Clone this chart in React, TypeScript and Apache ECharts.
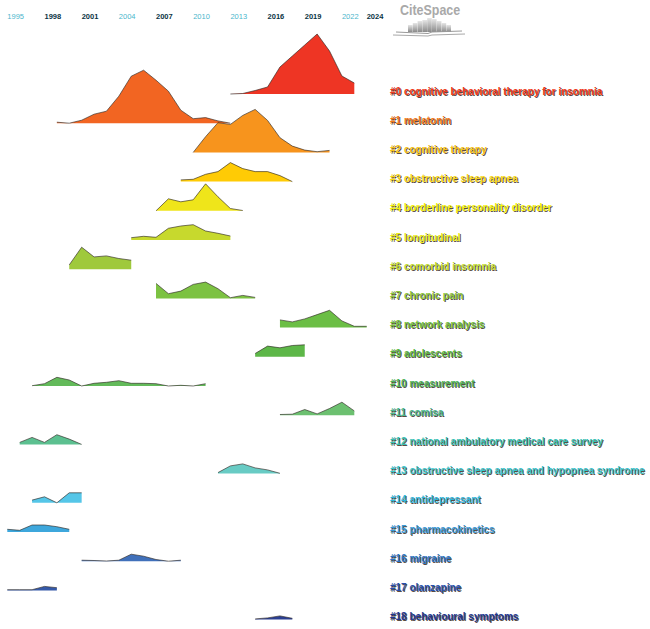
import React, { useEffect, useRef } from "react";
import * as echarts from "echarts";

const clusterNames = [
  "#0 cognitive behavioral therapy for insomnia",
  "#1 melatonin",
  "#2 cognitive therapy",
  "#3 obstructive sleep apnea",
  "#4 borderline personality disorder",
  "#5 longitudinal",
  "#6 comorbid insomnia",
  "#7 chronic pain",
  "#8 network analysis",
  "#9 adolescents",
  "#10 measurement",
  "#11 comisa",
  "#12 national ambulatory medical care survey",
  "#13 obstructive sleep apnea and hypopnea syndrome",
  "#14 antidepressant",
  "#15 pharmacokinetics",
  "#16 migraine",
  "#17 olanzapine",
  "#18 behavioural symptoms",
];

const startYears = [2013, 1999, 2010, 2009, 2007, 2005, 2000, 2007, 2017, 2015, 1997, 2017, 1996, 2012, 1997, 1995, 2001, 1995, 2015];

const h0 = [0, 0.5, 3.5, 7, 27, 38, 49, 60, 43, 18, 11];
const h1 = [1, 0, 3, 9, 12, 27, 47, 53, 43, 32, 13, 4.5, 5.6, 2.3, 0];
const h2 = [0, 15.7, 29.7, 28, 37, 43, 32, 14.7, 6.3, 2.3, 0.7, 2];
const h3 = [1.7, 2.3, 7.3, 10, 19, 13, 10, 10, 6, 0];
const h4 = [0, 12, 9, 11, 27, 14, 2.3, 0.3];
const h5 = [2.3, 3.7, 2.7, 11.7, 14, 15.3, 9, 6.7, 4];
const h6 = [4.3, 22, 12.3, 13.3, 10.7, 9];
const h7 = [15, 4.7, 7.3, 14, 16.3, 9.7, 0.7, 3, 1];
const h8 = [7.7, 5.7, 8.7, 13, 17.3, 6.7, 1.3, 1.3];
const h9 = [3.3, 10.7, 9, 11.3, 12];
const h10 = [0.3, 2.3, 8.7, 6, 0, 2.7, 3.7, 5.3, 2.7, 2.7, 2.3, 0, 0.7, 0, 2.3];
const h11 = [0.7, 1, 5.7, 1.3, 6.7, 13, 4.3];
const h12 = [2, 7, 2, 9.7, 5.3, 0];
const h13 = [1, 7.7, 9.7, 5.7, 3.7, 0.3];
const h14 = [2.7, 6, 0, 10, 10];
const h15 = [2.7, 1.7, 7, 7, 5.3, 2.7];
const h16 = [1, 0.7, 0.2, 1, 7, 5, 1.7, 0, 1];
const h17 = [0.7, 0.7, 0.7, 4, 2.7];
const h18 = [0.7, 1.7, 3.7, 1.3];
const clusterHeights = [h0, h1, h2, h3, h4, h5, h6, h7, h8, h9, h10, h11, h12, h13, h14, h15, h16, h17, h18];

const areaColors = [
  "#ee3524", "#f26522", "#f7941d", "#ffcb05", "#efe51a", "#c7d92d", "#9fc93c",
  "#7cc242", "#6bbe45", "#5db748", "#63ba5a", "#6cc070", "#5cc090", "#68cbc4",
  "#55c6e8", "#3ea7dc", "#4070ba", "#3559a8", "#2b3f92",
];
const labelColors = [
  "#ee3a20", "#f07a1c", "#f5c21a", "#f8d81c", "#f2f010", "#e8ea20", "#c2dc34",
  "#8cc640", "#74c040", "#5cb844", "#4eb258", "#4cb890", "#38c0b4", "#3cc4cc",
  "#30b6dc", "#3898d8", "#2c74c4", "#2850ae", "#1f3892",
];

const yearMin = 1995;
const yearMax = 2024;
const darkYears = [1998, 2001, 2007, 2016, 2019, 2024];

export default function App() {
  const ref = useRef<HTMLDivElement>(null);
  useEffect(() => {
    const el = ref.current!;
    const chart = echarts.init(el, null, { renderer: "svg" });
    const H = 629;
    const gridTop = 22;
    const rowPix = (i: number) => 94 + 29.2 * i;
    const rowBase = (i: number) => H - rowPix(i);

    const series = clusterHeights.map((hs, i) => ({
      type: "line",
      data: hs.map((h, k) => [startYears[i] + k, rowBase(i) + h]),
      symbol: "none",
      showSymbol: false,
      silent: true,
      lineStyle: { color: "rgba(45,40,35,0.8)", width: 0.8 },
      areaStyle: { color: areaColors[i], opacity: 1, origin: rowBase(i) },
    }));

    const font = "Liberation Sans, Arial, sans-serif";
    const labelFont = `bold 10px ${font}`;
    const labels: any[] = [];
    clusterNames.forEach((name, i) => {
      labels.push({
        type: "text",
        x: 391,
        y: rowPix(i) - 2,
        silent: true,
        style: {
          text: name,
          fill: "rgba(45,25,15,0.8)",
          font: labelFont,
          verticalAlign: "middle",
          align: "left",
        },
      });
      labels.push({
        type: "text",
        x: 390,
        y: rowPix(i) - 3,
        silent: true,
        style: {
          text: name,
          fill: labelColors[i],
          font: labelFont,
          verticalAlign: "middle",
          align: "left",
        },
      });
    });

    const barTops = [25, 23, 21, 20, 18, 19, 21, 23, 25];
    const bars = barTops.map((t, k) => ({
      type: "rect",
      shape: { x: 408 + k * 4.8, y: t, width: 4.6, height: 32 - t },
      style: {
        fill: new echarts.graphic.LinearGradient(0, 0, 0, 1, [
          { offset: 0, color: "#e6e6e6" },
          { offset: 1, color: "#8a8a8a" },
        ]),
      },
      silent: true,
    }));

    const logo = [
      {
        type: "text",
        x: 400,
        y: 3,
        scaleX: 0.83,
        style: {
          text: "CiteSpace",
          fill: "#a9a9a9",
          font: `bold 15px Liberation Sans, Arial, sans-serif`,
        },
        silent: true,
      },
      ...bars,
      {
        type: "polyline",
        shape: { points: [[396, 32], [428, 33.5], [432, 32], [462, 31]] },
        style: { stroke: "#9a9a9a", lineWidth: 1, fill: null },
        silent: true,
      },
      {
        type: "polyline",
        shape: { points: [[393, 35], [428, 36], [432, 35], [465, 34]] },
        style: { stroke: "#a8a8a8", lineWidth: 1, fill: null },
        silent: true,
      },
    ];

    chart.setOption({
      animation: false,
      backgroundColor: "#ffffff",
      grid: { left: 7.3, right: 650 - 366.7, top: gridTop, bottom: 0, containLabel: false },
      xAxis: {
        type: "value",
        min: yearMin,
        max: yearMax,
        interval: 3,
        position: "top",
        axisLine: { show: false },
        axisTick: { show: false },
        splitLine: { show: false },
        axisLabel: {
          show: true,
          margin: 1.5,
          align: "left",
          showMaxLabel: true,
          showMinLabel: true,
          formatter: (v: number) => (darkYears.includes(v) ? `{d|${v}}` : `{l|${v}}`),
          rich: {
            d: { color: "#0b3444", fontWeight: "bold", fontSize: 7.5, fontFamily: font },
            l: { color: "#4bb6cc", fontSize: 7.5, fontFamily: font },
          },
        },
      },
      yAxis: {
        type: "value",
        min: 0,
        max: H - gridTop,
        show: false,
        splitLine: { show: false },
      },
      series,
      graphic: [...labels, ...logo],
    });
    return () => chart.dispose();
  }, []);
  return (
    <div
      ref={ref}
      style={{ position: "fixed", left: 0, top: 0, width: 650, height: 629, background: "#fff" }}
    />
  );
}
